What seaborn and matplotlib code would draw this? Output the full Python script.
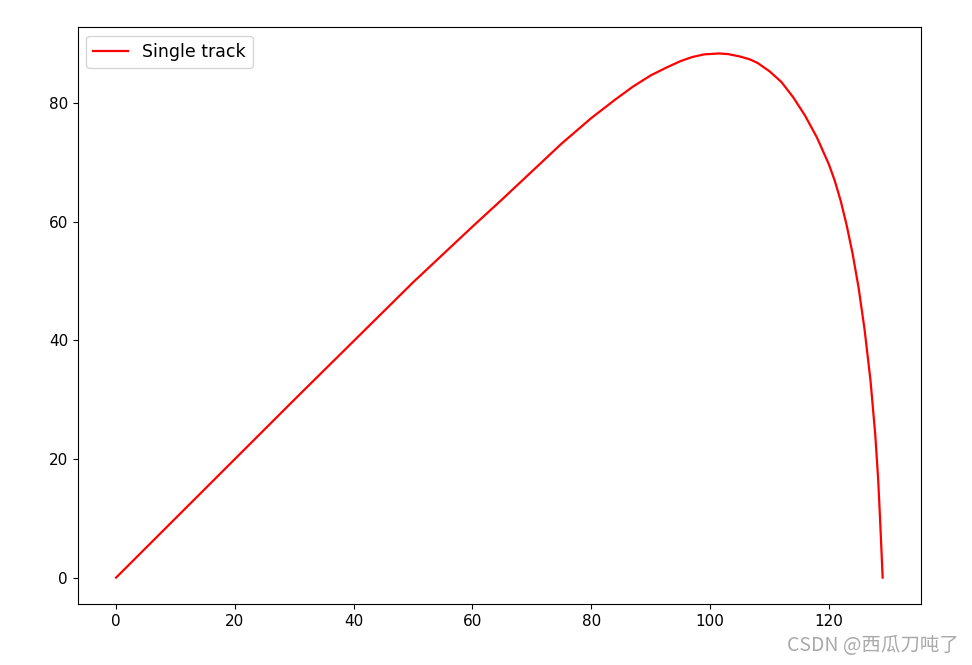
import pandas as pd
import seaborn as sns
import matplotlib
matplotlib.use('Agg')
import matplotlib.pyplot as plt

# trajectory points
x_vals = [0, 10, 20, 30, 40, 50, 55, 60, 65, 70, 75, 80, 84, 87, 90, 92.6, 95, 97,
          99, 101.5, 103, 105, 106.7, 108, 110, 112, 114, 116, 118, 120,
          121, 122, 123, 124, 125, 126, 127, 127.8, 128.3, 128.6, 128.85, 129.05]
y_vals = [0, 10, 20, 30, 39.9, 49.8, 54.5, 59.2, 63.8, 68.5, 73.2, 77.5, 80.6, 82.8, 84.7, 86.0, 87.1, 87.8,
          88.25, 88.4, 88.3, 87.9, 87.4, 86.8, 85.4, 83.6, 81.0, 77.9, 74.2, 69.7,
          66.9, 63.5, 59.4, 54.6, 48.9, 41.9, 33.3, 24.2, 16.5, 10.2, 4.6, 0]

df = pd.DataFrame({'x': x_vals, 'y': y_vals})

fig, ax = plt.subplots(figsize=(9.72, 6.65), dpi=100)
fig.subplots_adjust(left=0.080, right=0.9475, top=0.959, bottom=0.092)

sns.lineplot(data=df, x='x', y='y', sort=False, color='red', linewidth=1.6,
             label='Single track', ax=ax)

ax.set_xlabel('')
ax.set_ylabel('')
ax.set_xticks([0, 20, 40, 60, 80, 100, 120])
ax.set_yticks([0, 20, 40, 60, 80])
ax.tick_params(labelsize=11)
ax.legend(loc='upper left', fontsize=12.5)

fig.text(0.986, 0.013, 'CSDN @西瓜刀吨了', ha='right', va='bottom', fontsize=14,
         color='#aaaaaa', family=['Noto Sans CJK SC', 'DejaVu Sans'])

fig.savefig('out.png', dpi=100)
